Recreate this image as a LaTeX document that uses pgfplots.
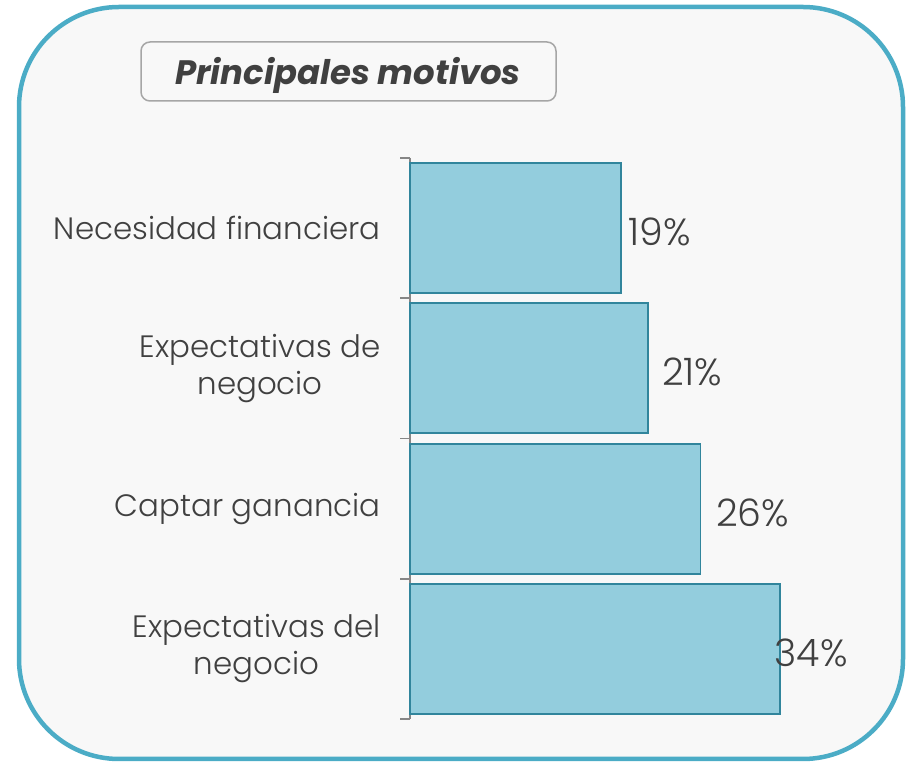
\documentclass[border=0pt]{standalone}
\usepackage{pgfplots}
\pgfplotsset{compat=1.18}
\usepackage{fontspec}
\setmainfont{Poppins}
\newfontfamily\lightfont{Poppins Light}
\definecolor{frame}{HTML}{4BACC6}
\definecolor{bg}{HTML}{F8F8F8}
\definecolor{barfill}{HTML}{93CDDD}
\definecolor{barline}{HTML}{31859C}
\definecolor{txt}{HTML}{404040}
\definecolor{axl}{HTML}{868686}
\definecolor{tbox}{HTML}{A6A6A6}
\begin{document}
\begin{tikzpicture}[x=1bp,y=1bp]
\useasboundingbox (0,0) rectangle (906,762);
\draw[frame, line width=4.5bp, fill=bg, rounded corners=100bp] (19,3) rectangle (903,755);
\draw[tbox, line width=1.5bp, fill=bg, rounded corners=9bp] (141,661) rectangle (556,720);
\node[txt, font=\fontsize{34}{40}\selectfont\bfseries\itshape] at (348,687) {Principales motivos};
\begin{axis}[
  at={(410bp,43bp)}, anchor=south west,
  scale only axis, width=370bp, height=561bp,
  xmin=0, xmax=34, ymin=-0.5, ymax=3.5,
  y dir=reverse,
  axis x line=none,
  axis y line*=left,
  y axis line style={axl, line width=1.5bp, -},
  ytick={0,1,2,3},
  yticklabels={Necesidad financiera, Expectativas de\\negocio, Captar ganancia, Expectativas del\\negocio},
  yticklabel style={align=center, txt, font=\fontsize{31}{37}\selectfont\lightfont, xshift=-26bp},
  major tick length=0pt,
  extra y ticks={-0.5,0.5,1.5,2.5,3.5},
  extra y tick labels={},
  extra y tick style={major tick length=10bp, tick align=outside, tick style={axl, line width=1.5bp}},
  clip=false,
]
\addplot[xbar, bar width=130bp, fill=barfill, draw=barline, line width=1.8bp] coordinates {(19.4,0) (21.9,1) (26.7,2) (34,3)};
\addplot[draw=none, mark=none, nodes near coords, point meta=explicit symbolic,
  every node near coord/.style={anchor=west, inner sep=0pt, txt, font=\fontsize{38}{40}\selectfont\lightfont, yshift=-4bp}]
  coordinates {(20.1,0)[19\%] (23.15,1)[21\%] (28.1,2)[26\%] (33.5,3)[34\%]};
\end{axis}
\end{tikzpicture}
\end{document}
